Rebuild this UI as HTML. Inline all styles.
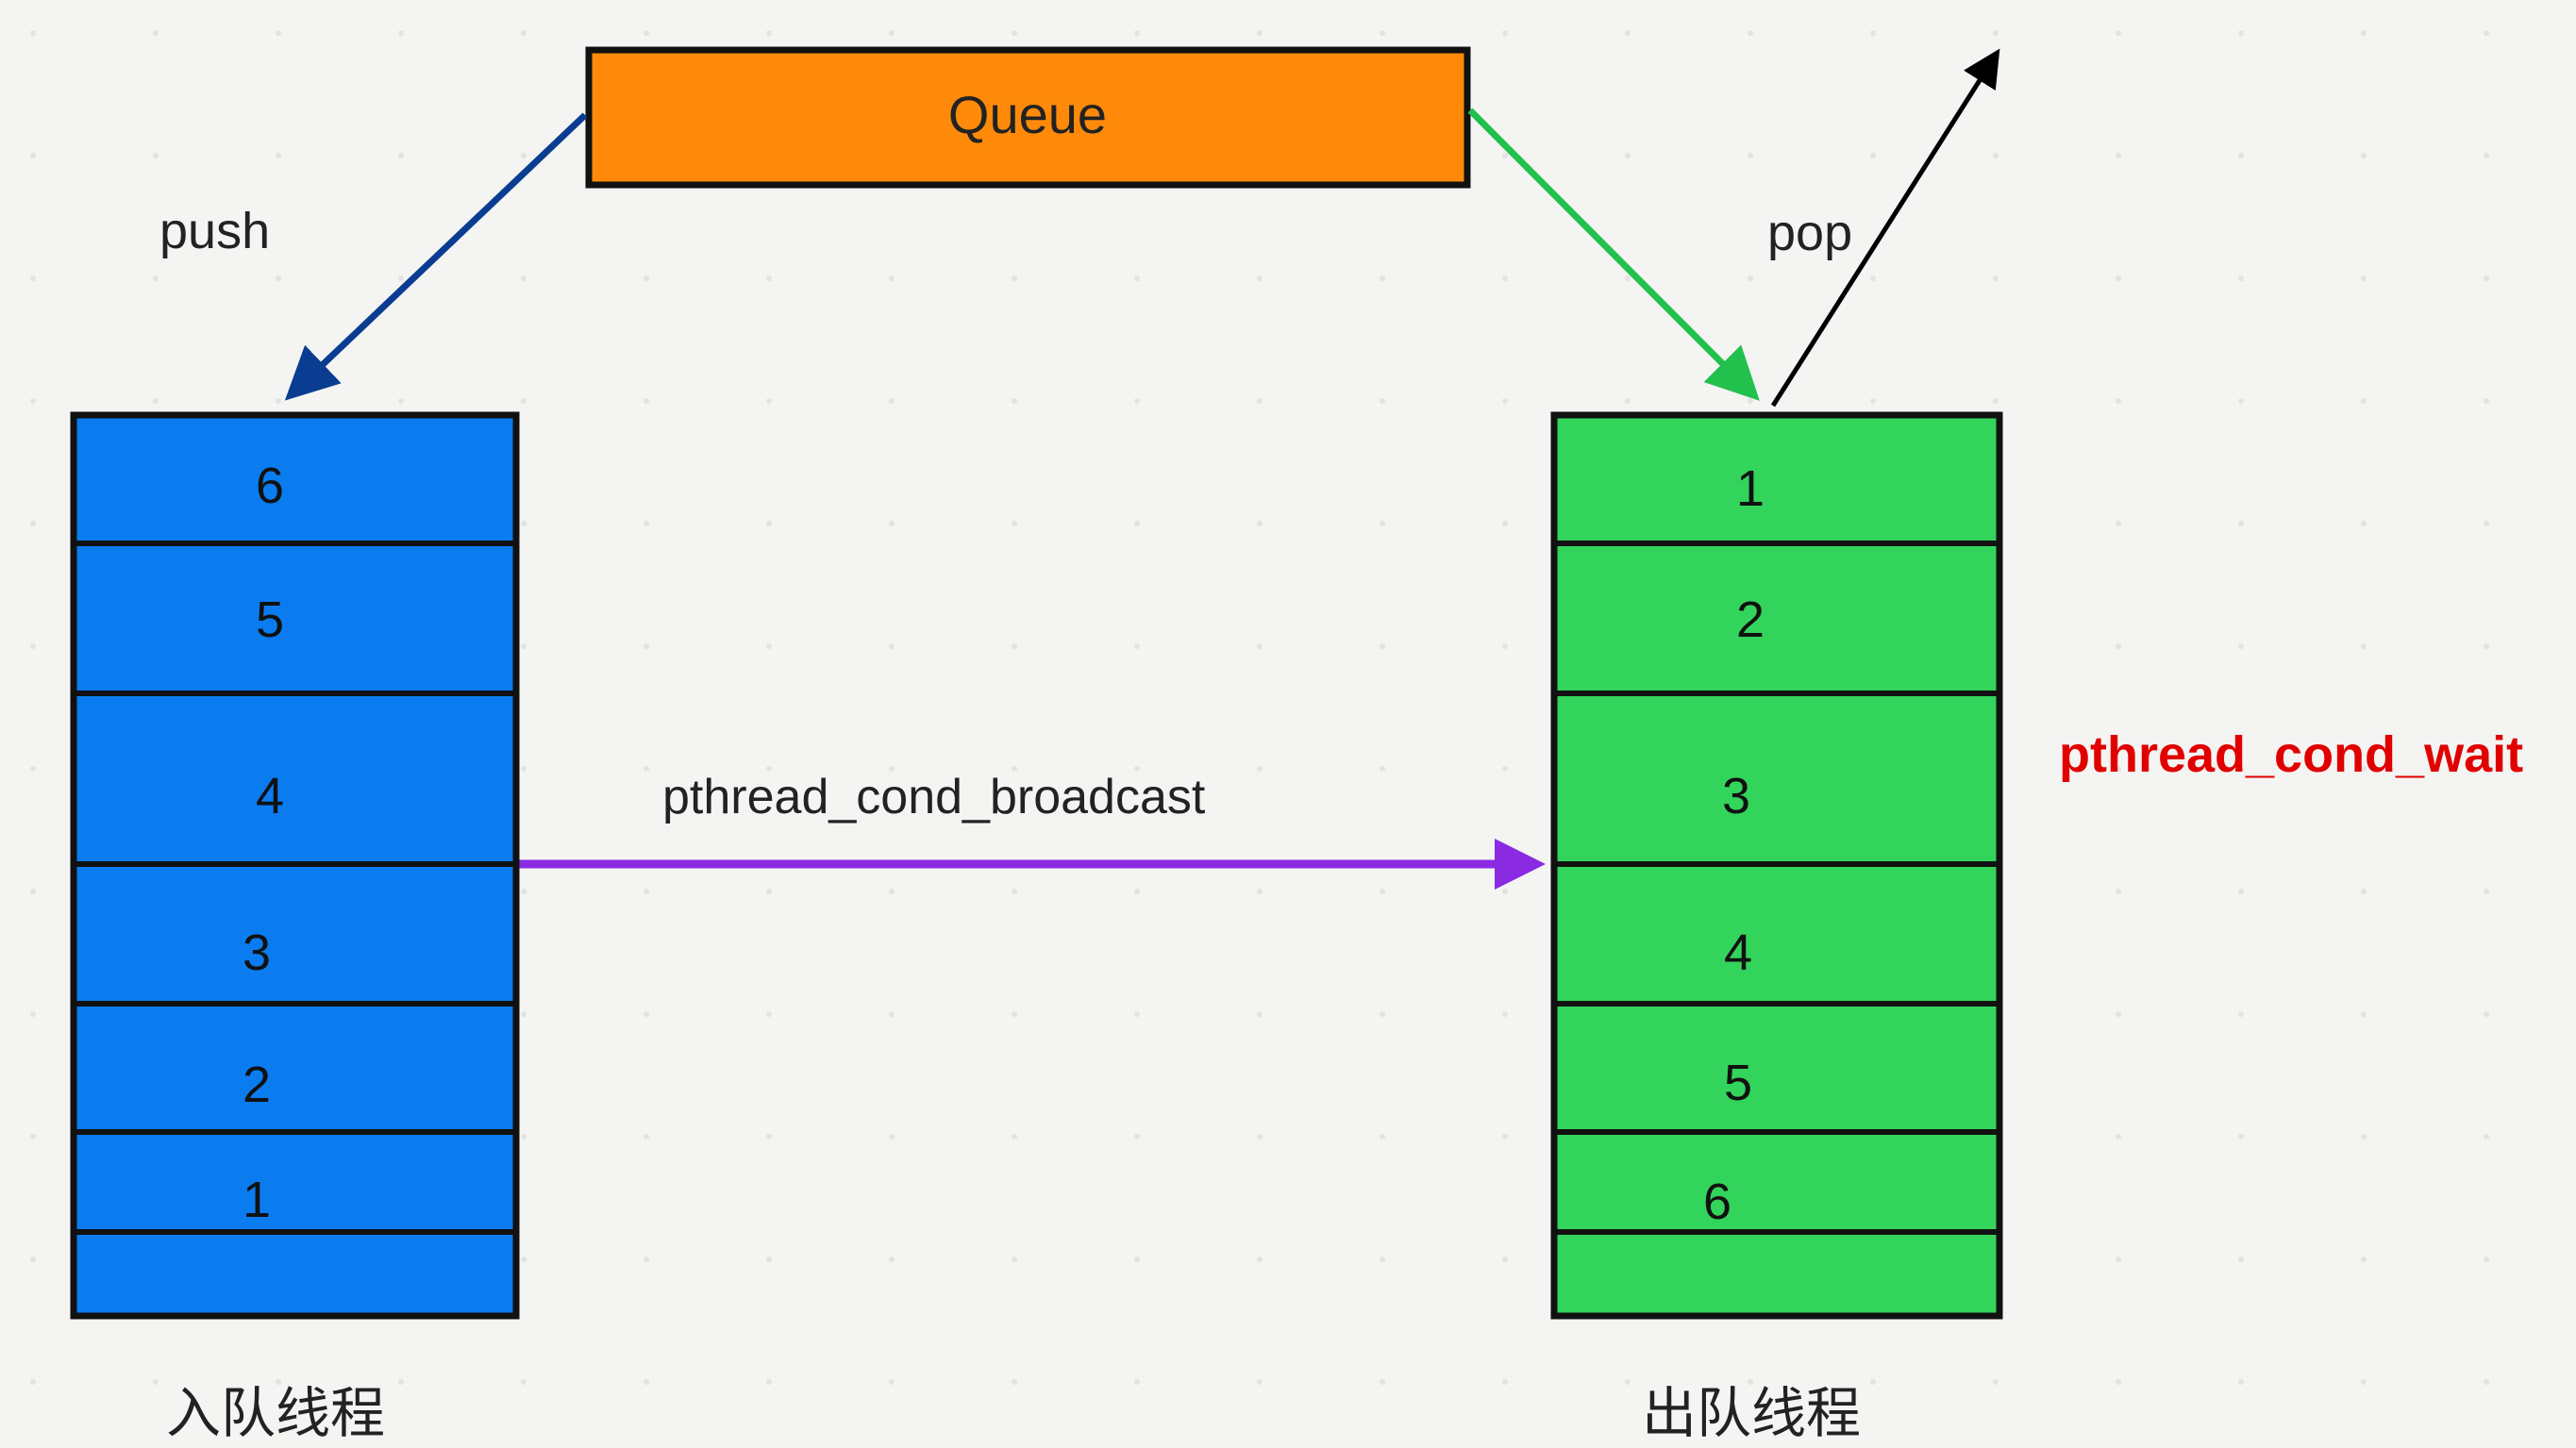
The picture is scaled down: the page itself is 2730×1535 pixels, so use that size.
<!DOCTYPE html>
<html><head><meta charset="utf-8"><style>
html,body{margin:0;padding:0;background:#f4f4f2;}
svg{display:block}
text{font-family:"Liberation Sans","Noto Sans CJK SC",sans-serif;}
</style></head><body>
<svg width="2730" height="1535" viewBox="0 0 2730 1535" xmlns="http://www.w3.org/2000/svg">
<defs>
<pattern id="dots" width="130" height="130" patternUnits="userSpaceOnUse">
<circle cx="35" cy="35" r="3" fill="#e2e2e0"/>
</pattern>
<marker id="ab" markerWidth="8" markerHeight="8" refX="6" refY="4" orient="auto" markerUnits="strokeWidth"><path d="M0,0 L8,4 L0,8 z" fill="#0a3d91"/></marker>
<marker id="ag" markerWidth="8" markerHeight="8" refX="6" refY="4" orient="auto" markerUnits="strokeWidth"><path d="M0,0 L8,4 L0,8 z" fill="#22c04c"/></marker>
<marker id="ak" markerWidth="8" markerHeight="8" refX="6" refY="4" orient="auto" markerUnits="strokeWidth"><path d="M0,0 L8,4 L0,8 z" fill="#000"/></marker>
<marker id="ap" markerWidth="6" markerHeight="6" refX="4" refY="3" orient="auto" markerUnits="strokeWidth"><path d="M0,0 L6,3 L0,6 z" fill="#8a2be2"/></marker>
</defs>
<rect width="2730" height="1535" fill="#f4f4f2"/>
<rect width="2730" height="1535" fill="url(#dots)"/>

<!-- Queue -->
<rect x="624" y="53" width="931" height="143" fill="#ff8a0a" stroke="#111" stroke-width="7"/>
<text x="1089" y="141" font-size="56" text-anchor="middle" fill="#222">Queue</text>

<!-- arrows -->
<line x1="620" y1="122" x2="312" y2="415" stroke="#0a3d91" stroke-width="7" marker-end="url(#ab)"/>
<line x1="1558" y1="117" x2="1855" y2="415" stroke="#22c04c" stroke-width="7" marker-end="url(#ag)"/>
<line x1="1879" y1="430" x2="2114" y2="60" stroke="#000" stroke-width="5" marker-end="url(#ak)"/>
<line x1="547" y1="916" x2="1620" y2="916" stroke="#8a2be2" stroke-width="9" marker-end="url(#ap)"/>

<text x="169" y="263" font-size="54" fill="#222">push</text>
<text x="1873" y="265" font-size="54" fill="#222">pop</text>
<text x="702" y="862" font-size="52" fill="#222">pthread_cond_broadcast</text>
<text x="2182" y="818" font-size="54" font-weight="bold" fill="#e00000">pthread_cond_wait</text>

<!-- left stack -->
<rect x="78" y="440" width="469" height="955" fill="#0a7cf0" stroke="#111" stroke-width="7"/>
<g stroke="#111" stroke-width="6">
<line x1="78" y1="576" x2="550" y2="576"/><line x1="78" y1="735" x2="550" y2="735"/>
<line x1="78" y1="916" x2="550" y2="916"/><line x1="78" y1="1064" x2="550" y2="1064"/>
<line x1="78" y1="1200" x2="550" y2="1200"/><line x1="78" y1="1306" x2="550" y2="1306"/>
</g>
<g font-size="54" fill="#111" text-anchor="middle">
<text x="286" y="533">6</text><text x="286" y="675">5</text><text x="286" y="862">4</text>
<text x="272" y="1028">3</text><text x="272" y="1168">2</text><text x="272" y="1290">1</text>
</g>

<!-- right stack -->
<rect x="1647" y="440" width="472" height="955" fill="#33d45c" stroke="#111" stroke-width="7"/>
<g stroke="#111" stroke-width="6">
<line x1="1647" y1="576" x2="2122" y2="576"/><line x1="1647" y1="735" x2="2122" y2="735"/>
<line x1="1647" y1="916" x2="2122" y2="916"/><line x1="1647" y1="1064" x2="2122" y2="1064"/>
<line x1="1647" y1="1200" x2="2122" y2="1200"/><line x1="1647" y1="1306" x2="2122" y2="1306"/>
</g>
<g font-size="54" fill="#111" text-anchor="middle">
<text x="1855" y="536">1</text><text x="1855" y="675">2</text><text x="1840" y="862">3</text>
<text x="1842" y="1028">4</text><text x="1842" y="1166">5</text><text x="1820" y="1292">6</text>
</g>

<text x="292" y="1518" font-size="58" text-anchor="middle" fill="#222">入队线程</text>
<text x="1856" y="1518" font-size="58" text-anchor="middle" fill="#222">出队线程</text>
</svg>
</body></html>
